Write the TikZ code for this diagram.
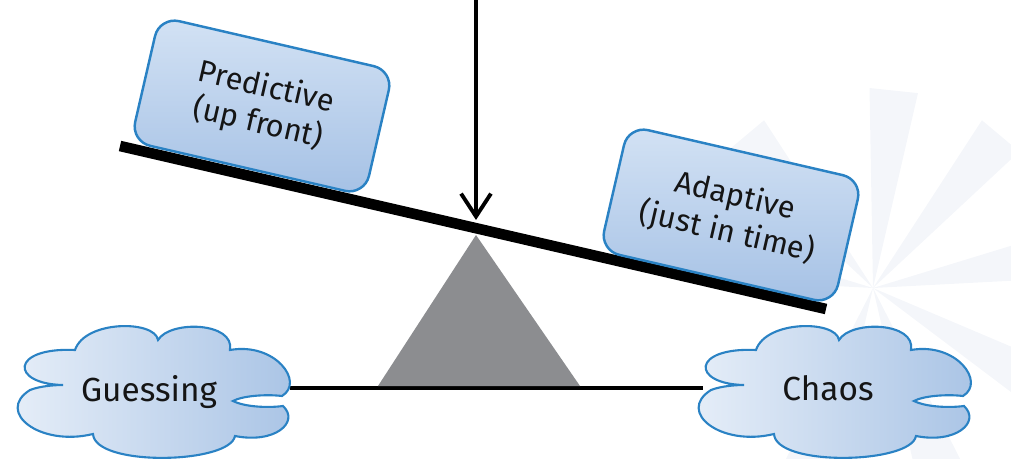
\documentclass[tikz,border=0pt]{standalone}
\usepackage{fontspec}
\setmainfont{Fira Sans}
\usetikzlibrary{arrows.meta,calc}

\definecolor{boxedge}{HTML}{2A82C4}
\definecolor{boxtop}{HTML}{D3E2F4}
\definecolor{boxbot}{HTML}{A5C1E5}
\definecolor{cloudL}{HTML}{E9F0F9}
\definecolor{cloudR}{HTML}{A8C3E5}
\definecolor{fulcrum}{HTML}{8C8D90}
\definecolor{ray}{HTML}{F4F6FA}
\definecolor{ink}{HTML}{151515}

\tikzset{
  weightbox/.style={draw=boxedge, line width=1.4pt, rounded corners=0.4cm,
    top color=boxtop, bottom color=boxbot, rotate=-13,
    minimum width=4.8cm, minimum height=2.56cm, align=center,
    text=ink, font=\fontsize{17.5}{21}\selectfont},
  cloudtext/.style={text=ink, font=\fontsize{19}{22}\selectfont},
  beam/.style={line width=0.212cm, line cap=butt, black},
  ground/.style={line width=2.2pt, black},
  load/.style={line width=2.2pt, black, -{Straight Barb[length=13pt,width=17pt,line width=2.2pt]}},
  burst/.style={fill=ray, draw=none},
  pics/cloud/.style={code={
    \path[draw=boxedge, line width=1.2pt, left color=cloudL, right color=cloudR]
      (-87,-7) .. controls (-140,-8) and (-140,-45) .. (-75,-42)
      .. controls (-65,-72) and (5,-72) .. (8,-52)
      .. controls (20,-72) and (85,-70) .. (80,-42)
      .. controls (125,-50) and (155,-10) .. (132,4)
      .. controls (115,2) and (92,4) .. (83,9)
      .. controls (95,15) and (118,16) .. (133,14)
      .. controls (150,30) and (125,52) .. (85,44)
      .. controls (80,72) and (-55,75) .. (-57,42)
      .. controls (-110,55) and (-155,20) .. (-120,-2)
      .. controls (-110,-6) and (-95,-7) .. (-87,-7) -- cycle;
  }}
}

\begin{document}
\begin{tikzpicture}[x=0.02cm, y=-0.02cm]
\useasboundingbox (0,0) rectangle (1011,459);

% faint sunburst behind the right side
\coordinate (sun) at (873,288);
\foreach \a in {84,50,10,-30,-70,-110,130,170} {
  \fill[burst] (sun) -- ($(sun)+({-\a-7}:200)$) -- ($(sun)+({-\a+7}:200)$) -- cycle;
}

% ground line joining the two clouds
\coordinate (gR) at (290,388);
\coordinate (cL) at (703,388);
\draw[ground] (gR) -- (cL);

% fulcrum
\coordinate (apex) at (476,235);
\coordinate (baseL) at (378,386);
\coordinate (baseR) at (580,386);
\fill[fulcrum] (apex) -- (baseL) -- (baseR) -- cycle;

% clouds
\pic at (150,392) {cloud};
\node[cloudtext] (guess) at (149,392) {Guessing};
\pic at (831,392) {cloud};
\node[cloudtext] (chaos) at (828,388) {Chaos};

% tilted beam
\coordinate (beamL) at (120,146);
\coordinate (beamR) at (826,309);
\draw[beam] (beamL) -- (beamR);

% weights on the beam
\node[weightbox] (pred) at (262,106) {Predictive\\(up front)};
\node[weightbox] (adap) at (731,215) {Adaptive\\(just in time)};

% downward force
\coordinate (force) at (476,0);
\coordinate (pivot) at (476,220);
\draw[load] (force) -- (pivot);
\end{tikzpicture}
\end{document}
